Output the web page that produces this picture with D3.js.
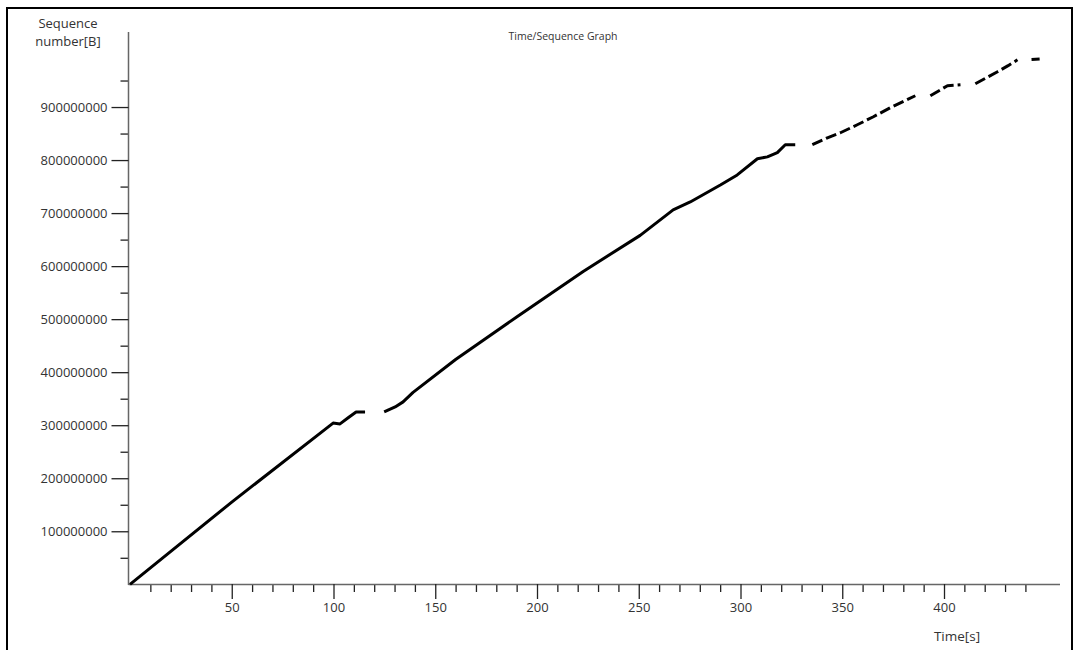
<!DOCTYPE html>
<html>
<head>
<meta charset="utf-8">
<script src="https://cdnjs.cloudflare.com/ajax/libs/d3/7.8.5/d3.min.js"></script>
<style>
  body { margin: 0; background: #fff; }
  text { font-family: "Open Sans", sans-serif; fill: #333; }
</style>
</head>
<body>
<script>

// x axis tick values
var timeMajor = [50, 100, 150, 200, 250, 300, 350, 400];
var timeMinor = [10, 20, 30, 40, 60, 70, 80, 90, 110, 120, 130, 140, 160, 170, 180, 190,
                 210, 220, 230, 240, 260, 270, 280, 290, 310, 320, 330, 340, 360, 370, 380, 390,
                 410, 420, 430, 440];
// y axis tick values
var seqMajor = [100000000, 200000000, 300000000, 400000000, 500000000,
                600000000, 700000000, 800000000, 900000000];
var seqMinor = [50000000, 150000000, 250000000, 350000000, 450000000,
                550000000, 650000000, 750000000, 850000000, 950000000];

// series: [time s, sequence number in millions]
// every piece of the line that is unbroken is its own list
var seqPiece1 = [[0, 0], [50, 155], [99.8, 304], [103.2, 302.5], [107.2, 314],
                 [111.1, 325], [115.5, 325]];
var seqPiece2 = [[124.9, 325], [130.3, 334.5], [134.2, 344], [139.1, 362], [160, 424],
                 [190, 504], [222.7, 590], [250.7, 658], [266.9, 706], [275.3, 721],
                 [290.1, 753], [298.4, 772], [308.3, 802.5], [313.2, 806], [318.1, 814],
                 [322, 829], [326.9, 829]];
var seqPiece3 = [[335.3, 829], [342.7, 842], [349.1, 851.5], [357.4, 866.6], [365.3, 881.7],
                 [373.6, 898.7], [385.9, 921.3]];
var seqPiece4 = [[393.3, 921.3], [401.7, 940.2], [408.1, 942.1]];
var seqPiece5 = [[415.4, 943.9], [426.3, 966.6], [431.5, 978], [436.1, 989]];
var seqPiece6 = [[443, 989.5], [447, 990.5]];

var pieces = [seqPiece1, seqPiece2, seqPiece3, seqPiece4, seqPiece5, seqPiece6];

var width = 1076;
var height = 650;

var svg = d3.select('body')
    .append('svg')
    .attr("width", width)
    .attr("height", height);

// outer frame
svg.append('rect')
    .attr("x", 7)
    .attr("y", 8)
    .attr("width", 1065)
    .attr("height", 660)
    .style("fill", "none")
    .style("stroke", "#000")
    .style("stroke-width", 2);

var x = d3.scaleLinear().domain([0, 457]).range([130, 1060]);
var y = d3.scaleLinear().domain([0, 1041500000]).range([584.3, 32]);

// x axis, minor ticks first then the labelled ones
svg.append('g')
    .attr("transform", "translate(0,584)")
    .call(d3.axisBottom(x).tickValues(timeMinor).tickSize(8).tickSizeOuter(0).tickFormat(""))
    .call(function(g){ g.select('.domain').remove(); });

var xAxis = svg.append('g')
    .attr("class", "xaxis")
    .attr("transform", "translate(0,584)")
    .call(d3.axisBottom(x).tickValues(timeMajor).tickSize(15).tickSizeOuter(0).tickPadding(4));

// y axis
svg.append('g')
    .attr("transform", "translate(128.5,0)")
    .call(d3.axisLeft(y).tickValues(seqMinor).tickSize(8).tickSizeOuter(0).tickFormat(""))
    .call(function(g){ g.select('.domain').remove(); });

var yAxis = svg.append('g')
    .attr("class", "yaxis")
    .attr("transform", "translate(128.5,0)")
    .call(d3.axisLeft(y).tickValues(seqMajor).tickSize(17).tickSizeOuter(0).tickPadding(4)
        .tickFormat(d3.format("d")));

svg.selectAll('.tick line').style("stroke", "#222").style("stroke-width", 1.3);
svg.selectAll('.domain').style("stroke", "#666").style("stroke-width", 1.5);
svg.selectAll('.xaxis text, .yaxis text')
    .style("font-size", "13px")
    .style("fill", "#333");

// the x axis line has to start at the y axis
xAxis.select('.domain').attr("d", "M128.5,0.5H1060");
yAxis.select('.domain').attr("d", "M0,32V585");

// the data
var line = d3.line()
    .x(function(d){ return x(d[0]); })
    .y(function(d){ return y(d[1] * 1000000); });

svg.selectAll(".piece")
    .data(pieces)
    .enter()
    .append('path')
    .attr("class", "piece")
    .attr("d", line)
    .style("fill", "none")
    .style("stroke", "#000")
    .style("stroke-width", 3)
    .style("stroke-linejoin", "round")
    .style("stroke-dasharray", function(d){
        // the later part of the trace is only a row of short bits
        return d[0][0] > 330 ? "11,4" : null;
    });

// texts
svg.append('text')
    .attr("x", 68).attr("y", 28)
    .attr("text-anchor", "middle")
    .style("font-size", "13px")
    .text("Sequence");
svg.append('text')
    .attr("x", 68).attr("y", 46)
    .attr("text-anchor", "middle")
    .style("font-size", "13px")
    .text("number[B]");

svg.append('text')
    .attr("x", 563).attr("y", 40)
    .attr("text-anchor", "middle")
    .style("font-size", "10.5px")
    .text("Time/Sequence Graph");

svg.append('text')
    .attr("x", 957).attr("y", 641)
    .attr("text-anchor", "middle")
    .style("font-size", "13.5px")
    .text("Time[s]");

</script>
</body>
</html>
